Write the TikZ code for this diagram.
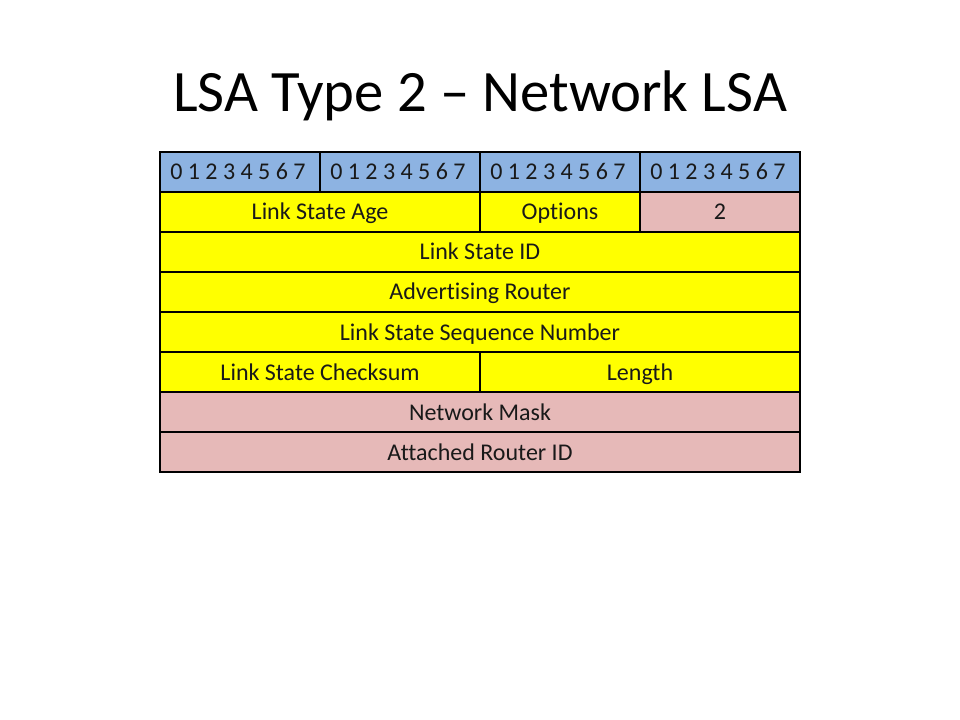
\documentclass[tikz,border=0pt]{standalone}
\usepackage{fontspec}
\setmainfont{Carlito}[Ligatures=NoCommon]
\definecolor{hdrblue}{RGB}{141,179,226}
\definecolor{fldyellow}{RGB}{255,255,0}
\definecolor{fldpink}{RGB}{230,185,184}
\tikzset{
  cell/.style={draw=black, line width=0.9pt, inner sep=0pt, outer sep=0pt,
    minimum height=30pt, text height=16pt, text depth=4pt,
    font=\fontsize{18}{21.6}\selectfont, text=black!90},
  hdr/.style={cell, fill=hdrblue, minimum width=120pt},
  hdrtext/.style={anchor=west, inner sep=0pt, text height=16pt, text depth=4pt,
    font=\fontsize{18}{21.6}\selectfont, text=black!90},
  ycell/.style={cell, fill=fldyellow},
  pcell/.style={cell, fill=fldpink},
  w1/.style={minimum width=120pt},
  w2/.style={minimum width=240pt},
  w4/.style={minimum width=480pt},
}
\begin{document}
\begin{tikzpicture}[x=0.75pt,y=-0.75pt]
\useasboundingbox (0,0) rectangle (960,720);
\node[anchor=base, font=\fontsize{44}{52}\selectfont] (title) at (480,112) {LSA Type 2 -- Network LSA};
% header row
\node[hdr] (h1) at (240,172) {};
\node[hdr] (h2) at (400,172) {};
\node[hdr] (h3) at (560,172) {};
\node[hdr] (h4) at (720,172) {};
\foreach \h in {h1,h2,h3,h4}
  \node[hdrtext] (\h t) at ([xshift=7.5pt]\h.west) {0 1 2 3 4 5 6 7};
% row 1
\node[ycell,w2] (age) at (320,212) {Link State Age};
\node[ycell,w1] (opt) at (560,212) {Options};
\node[pcell,w1] (type) at (720,212) {2};
% rows
\node[ycell,w4] (lsid) at (480,252) {Link State ID};
\node[ycell,w4] (adv) at (480,292) {Advertising Router};
\node[ycell,w4] (seq) at (480,332) {Link State Sequence Number};
\node[ycell,w2] (cks) at (320,372) {Link State Checksum};
\node[ycell,w2] (len) at (640,372) {Length};
\node[pcell,w4] (mask) at (480,412) {Network Mask};
\node[pcell,w4] (att) at (480,452) {Attached Router ID};
\end{tikzpicture}
\end{document}
